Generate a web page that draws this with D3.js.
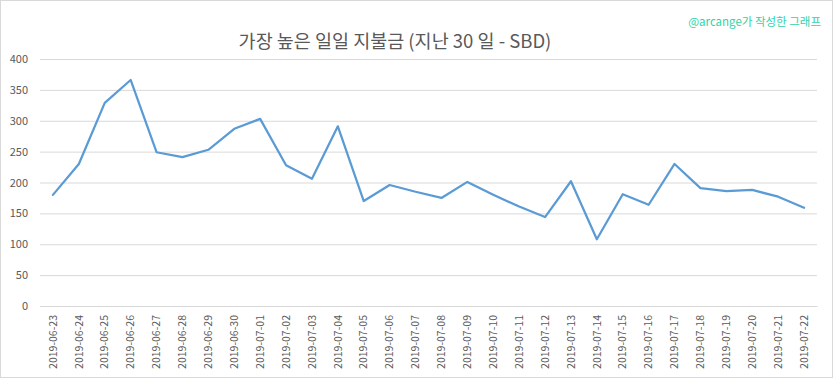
<!DOCTYPE html>
<html><head><meta charset="utf-8">
<script src="https://cdn.jsdelivr.net/npm/d3@7/dist/d3.min.js"></script>
<style>html,body{margin:0;padding:0;background:#fff;}svg{display:block;}</style>
</head><body>
<script>
const dates = ["2019-06-23","2019-06-24","2019-06-25","2019-06-26","2019-06-27","2019-06-28","2019-06-29","2019-06-30","2019-07-01","2019-07-02","2019-07-03","2019-07-04","2019-07-05","2019-07-06","2019-07-07","2019-07-08","2019-07-09","2019-07-10","2019-07-11","2019-07-12","2019-07-13","2019-07-14","2019-07-15","2019-07-16","2019-07-17","2019-07-18","2019-07-19","2019-07-20","2019-07-21","2019-07-22"];
const values = [180,230,329,366,249,241,253,287,303,228,206,291,170,196,185,175,201,180,161,144,202,108,181,164,230,191,186,188,177,159];
const yTicks = [0,50,100,150,200,250,300,350,400];
const titleText = "가장 높은 일일 지불금 (지난 30 일 - SBD)";
const creditText = "@arcange가 작성한 그래프";

const W = 833, H = 379;
const m = {left:40, right:16, top:59, bottom:73};
const svg = d3.select("body").append("svg").attr("width",W).attr("height",H);
const font = "'Noto Sans CJK KR','Noto Sans',sans-serif";

svg.append("rect").attr("x",0.5).attr("y",0.5).attr("width",W-1).attr("height",H-2)
  .attr("fill","#fff").attr("stroke","#d9d9d9");

const x = d3.scaleBand().domain(dates).range([m.left, W-m.right]);
const y = d3.scaleLinear().domain([0,400]).range([H-m.bottom, m.top]);

const yAxis = svg.append("g").attr("transform",`translate(${m.left},0)`)
  .call(d3.axisLeft(y).tickValues(yTicks).tickSize(-(W-m.left-m.right)).tickPadding(12));
yAxis.select(".domain").remove();
yAxis.selectAll("line").attr("stroke","#d9d9d9");
yAxis.selectAll("text").attr("fill","#595959").style("font-family",font).style("font-size","11px");

const xAxis = svg.append("g").attr("transform",`translate(0,${H-m.bottom})`)
  .call(d3.axisBottom(x).tickSize(0).tickPadding(0));
xAxis.select(".domain").attr("stroke","#d9d9d9");
xAxis.selectAll("text").attr("fill","#595959").style("font-family",font).style("font-size","10.5px")
  .attr("transform","rotate(-90)").attr("text-anchor","end").attr("dx","-9px").attr("dy","0.35em").attr("y",0).attr("x",0);

const line = d3.line().x((d,i)=>x(dates[i])+x.bandwidth()/2).y(d=>y(d));
svg.append("path").datum(values).attr("d",line).attr("fill","none")
  .attr("stroke","#5b9bd5").attr("stroke-width",2.25).attr("stroke-linejoin","round").attr("stroke-linecap","round");

svg.append("text").attr("x",395).attr("y",48).attr("text-anchor","middle")
  .attr("fill","#595959").style("font-family",font).style("font-size","18.5px").text(titleText);
svg.append("text").attr("x",821).attr("y",26).attr("text-anchor","end")
  .attr("fill","#2fd3a6").style("font-family",font).style("font-size","11.5px").text(creditText);
</script>
</body></html>
